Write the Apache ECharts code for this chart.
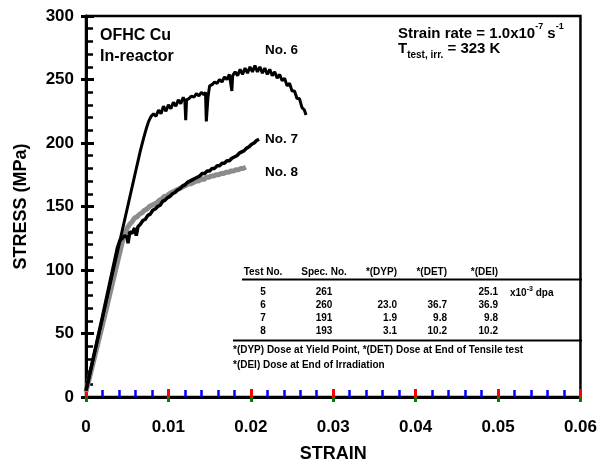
<!DOCTYPE html>
<html>
<head>
<meta charset="utf-8">
<script src="https://cdn.jsdelivr.net/npm/echarts@6.0.0/dist/echarts.min.js"></script>
<style>
  html, body { margin: 0; padding: 0; background: #fff; }
  #chart { width: 600px; height: 470px; }
</style>
</head>
<body>
<div id="chart"></div>
<script>
// stress-strain curves, [strain, stress MPa]
const curve6 = [
  [0, 5], [0.003, 91], [0.006, 177], [0.0066, 194], [0.0070, 204], [0.0073, 211], [0.0076, 217],
  [0.0079, 221], [0.0082, 223], [0.0085, 221], [0.0088, 226], [0.0091, 223], [0.0094, 229],
  [0.0097, 225], [0.0100, 230], [0.0103, 227], [0.0106, 232], [0.0109, 229], [0.0112, 234],
  [0.0115, 231], [0.0118, 236], [0.0120, 233], [0.0121, 218], [0.0122, 234], [0.0125, 235],
  [0.0128, 237], [0.0131, 236], [0.0134, 239], [0.0137, 237], [0.0140, 240], [0.0143, 238],
  [0.0145, 240], [0.0146, 217], [0.0148, 236], [0.0150, 245], [0.0153, 246], [0.0156, 248],
  [0.0159, 247], [0.0162, 250], [0.0165, 248], [0.0168, 252], [0.0171, 250], [0.0174, 254],
  [0.0177, 241], [0.0178, 253], [0.0181, 256], [0.0184, 253], [0.0187, 258], [0.0190, 254],
  [0.0193, 259], [0.0196, 255], [0.0199, 260], [0.0202, 256], [0.0205, 261], [0.0208, 256],
  [0.0211, 260], [0.0214, 255], [0.0217, 259], [0.0220, 254], [0.0223, 258], [0.0226, 253],
  [0.0229, 256], [0.0232, 251], [0.0235, 254], [0.0238, 249], [0.0241, 251], [0.0244, 245],
  [0.0247, 247], [0.0250, 241], [0.0253, 241], [0.0256, 235], [0.0259, 235], [0.0262, 228],
  [0.0265, 226], [0.0267, 222]
];
const curve7 = [
  [0, 5], [0.0020, 63], [0.0038, 117], [0.0041, 123], [0.0044, 125], [0.0047, 127], [0.0050, 126],
  [0.0051, 121], [0.0053, 130], [0.0056, 129], [0.0059, 133], [0.0061, 127], [0.0063, 134],
  [0.0066, 136], [0.0069, 139], [0.0072, 140], [0.0075, 143], [0.0078, 144], [0.0081, 147],
  [0.0084, 148], [0.0087, 150], [0.0090, 151], [0.0093, 154], [0.0096, 155], [0.0099, 157],
  [0.0102, 158], [0.0105, 160], [0.0108, 161], [0.0111, 163], [0.0114, 164], [0.0117, 166],
  [0.0120, 167], [0.0123, 169], [0.0126, 170], [0.0129, 171], [0.0132, 172], [0.0135, 173],
  [0.0138, 174], [0.0141, 176], [0.0144, 176], [0.0147, 178], [0.0150, 178], [0.0153, 180],
  [0.0156, 180], [0.0159, 182], [0.0162, 182], [0.0165, 184], [0.0168, 184], [0.0171, 186],
  [0.0174, 186], [0.0177, 188], [0.0180, 189], [0.0183, 190], [0.0186, 192], [0.0189, 193],
  [0.0192, 194], [0.0195, 196], [0.0198, 197], [0.0201, 199], [0.0204, 200], [0.0207, 202],
  [0.0210, 203]
];
const curve8 = [
  [0, 4], [0.0022, 62], [0.0044, 122], [0.0047, 128], [0.0050, 133], [0.0053, 136], [0.0056, 138],
  [0.0059, 141], [0.0062, 142], [0.0065, 144], [0.0068, 145], [0.0071, 147], [0.0074, 148],
  [0.0077, 150], [0.0080, 151], [0.0083, 152], [0.0086, 153], [0.0089, 155], [0.0092, 156],
  [0.0095, 158], [0.0098, 158], [0.0101, 160], [0.0104, 161], [0.0107, 162], [0.0110, 163],
  [0.0113, 164], [0.0116, 165], [0.0119, 166], [0.0122, 167], [0.0125, 168], [0.0128, 168],
  [0.0131, 169], [0.0134, 170], [0.0137, 170], [0.0140, 172], [0.0143, 171], [0.0146, 173],
  [0.0149, 173], [0.0152, 174], [0.0155, 174], [0.0158, 175], [0.0161, 175], [0.0164, 176],
  [0.0167, 176], [0.0170, 177], [0.0173, 177], [0.0176, 178], [0.0179, 178], [0.0182, 179],
  [0.0185, 179], [0.0188, 180], [0.0191, 180], [0.0194, 181]
];

const curveNames = ['No. 8', 'No. 7', 'No. 6'];

// dose table
const tableHeader = ['Test No.', 'Spec. No.', '*(DYP)', '*(DET)', '*(DEI)'];
const tableRows = [
  ['5', '261', '', '', '25.1'],
  ['6', '260', '23.0', '36.7', '36.9'],
  ['7', '191', '1.9', '9.8', '9.8'],
  ['8', '193', '3.1', '10.2', '10.2']
];
const footnotes = [
  '*(DYP) Dose at Yield Point, *(DET) Dose at End of Tensile test',
  '*(DEI) Dose at End of Irradiation'
];

const FONT = '"Liberation Sans", Arial, sans-serif';
const chart = echarts.init(document.getElementById('chart'));

function txt(x, y, text, size, align, extra) {
  return {
    type: 'text', z: 100,
    style: Object.assign({
      x: x, y: y, text: text, fill: '#000',
      font: 'bold ' + size + 'px ' + FONT,
      align: align || 'left', verticalAlign: 'middle'
    }, extra || {})
  };
}
function hline(x1, x2, y, w) {
  return { type: 'line', z: 100, shape: { x1: x1, y1: y, x2: x2, y2: y }, style: { stroke: '#000', lineWidth: w } };
}

// table layout (columns: center, center, right, right, right)
const colX = [263, 324, 397, 447, 498];
const colAlign = ['center', 'center', 'right', 'right', 'right'];
const rowY = [292, 305.5, 318.5, 331.5];
let graphics = [];
tableHeader.forEach((h, i) => graphics.push(txt(colX[i], 272.5, h, 10, colAlign[i])));
tableRows.forEach((r, j) => r.forEach((v, i) => { if (v) graphics.push(txt(colX[i], rowY[j], v, 10, colAlign[i])); }));
graphics.push(hline(242, 582, 279.5, 2));
graphics.push(hline(233, 582, 340.5, 2));
graphics.push(txt(510, 292, '{m|x10}{s|-3}{m| dpa}', 10, 'left', {
  rich: { m: { font: 'bold 10px ' + FONT, lineHeight: 13, verticalAlign: 'bottom' }, s: { font: 'bold 7px ' + FONT, lineHeight: 13, verticalAlign: 'top' } }
}));
graphics.push(txt(233, 350, footnotes[0], 10));
graphics.push(txt(233, 365, footnotes[1], 10));

// annotations
graphics.push(txt(100, 35.5, 'OFHC Cu', 16));
graphics.push(txt(100, 56.5, 'In-reactor', 16));
graphics.push(txt(265, 50, curveNames[2], 13.5));
graphics.push(txt(265, 139, curveNames[1], 13.5));
graphics.push(txt(265, 172, curveNames[0], 13.5));
graphics.push(txt(398, 32, '{m|Strain rate = 1.0x10}{s|-7}{m| s}{s|-1}', 15, 'left', {
  rich: { m: { font: 'bold 15px ' + FONT, lineHeight: 19, verticalAlign: 'bottom' }, s: { font: 'bold 9px ' + FONT, lineHeight: 19, verticalAlign: 'top' } }
}));
graphics.push(txt(398, 51, '{m|T}{b|test, irr.}{m| = 323 K}', 15, 'left', {
  rich: { m: { font: 'bold 15px ' + FONT, lineHeight: 19, verticalAlign: 'top' }, b: { font: 'bold 10px ' + FONT, lineHeight: 19, verticalAlign: 'bottom' } }
}));

const labelStyle = { color: '#000', fontFamily: FONT, fontWeight: 'bold', fontSize: 17 };

let option = {
  animation: false,
  grid: { left: 86, right: 17, top: 16, bottom: 73, show: true, borderColor: '#000', borderWidth: 2.5 },
  xAxis: [{
    // main axis: line, labels, inward ticks + minor ticks
    type: 'value', min: 0, max: 0.06, interval: 0.01, position: 'bottom',
    axisLine: { show: true, onZero: false, lineStyle: { color: '#000', width: 3 } },
    axisTick: { show: true, inside: true, length: 8, lineStyle: { color: 'red', width: 3 } },
    minorTick: { show: true, splitNumber: 5, length: 7, lineStyle: { color: 'blue', width: 2.5 } },
    axisLabel: Object.assign({ margin: 22, formatter: v => String(+v.toFixed(2)) }, labelStyle),
    splitLine: { show: false },
    name: 'STRAIN', nameLocation: 'middle', nameGap: 48,
    nameTextStyle: { color: '#000', fontFamily: FONT, fontWeight: 'bold', fontSize: 18, verticalAlign: 'top' }
  }, {
    // outward part of the major ticks
    type: 'value', min: 0, max: 0.06, interval: 0.01, position: 'bottom',
    axisLine: { show: false, onZero: false },
    axisTick: { show: true, inside: false, length: 5, lineStyle: { color: 'green', width: 3 } },
    axisLabel: { show: false },
    splitLine: { show: false }
  }],
  yAxis: [{
    type: 'value', min: 0, max: 300, interval: 50, position: 'left',
    axisLine: { show: true, onZero: false, lineStyle: { color: '#000', width: 3 } },
    axisTick: { show: true, inside: true, length: 8, lineStyle: { color: '#000', width: 3 } },
    minorTick: { show: true, splitNumber: 5, length: 7, lineStyle: { color: '#000', width: 2.5 } },
    axisLabel: Object.assign({ margin: 12 }, labelStyle),
    splitLine: { show: false },
    name: 'STRESS (MPa)', nameLocation: 'middle', nameGap: 56,
    nameTextStyle: { color: '#000', fontFamily: FONT, fontWeight: 'bold', fontSize: 18 }
  }, {
    // outward part of the major ticks
    type: 'value', min: 0, max: 300, interval: 50, position: 'left',
    axisLine: { show: false, onZero: false },
    axisTick: { show: true, inside: false, length: 5, lineStyle: { color: '#000', width: 3 } },
    axisLabel: { show: false },
    splitLine: { show: false }
  }],
  series: [{
    name: curveNames[0], type: 'line', data: curve8, showSymbol: false, xAxisIndex: 0, yAxisIndex: 0,
    lineStyle: { color: '#8c8c8c', width: 5 }
  }, {
    name: curveNames[1], type: 'line', data: curve7, showSymbol: false, xAxisIndex: 0, yAxisIndex: 0,
    lineStyle: { color: '#000', width: 3.5 }
  }, {
    name: curveNames[2], type: 'line', data: curve6, showSymbol: false, xAxisIndex: 0, yAxisIndex: 0,
    lineStyle: { color: '#000', width: 3 }
  }],
  graphic: graphics
};
chart.setOption(option);
</script>
</body>
</html>
